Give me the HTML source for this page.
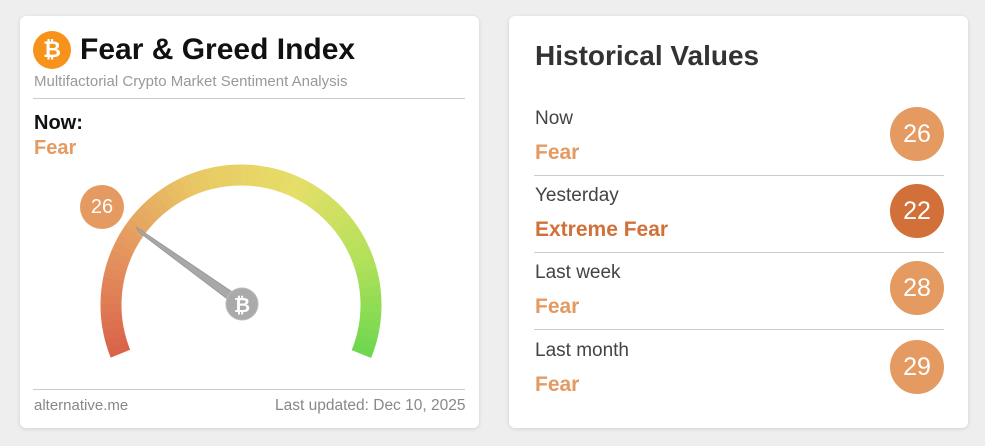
<!DOCTYPE html><html><head><style>
body{margin:0;width:985px;height:446px;background:#eeeeee;font-family:"Liberation Sans",sans-serif;position:relative;overflow:hidden}
.card{position:absolute;background:#fff;border-radius:6px;box-shadow:0 1px 4px rgba(0,0,0,.12)}
.a{position:absolute;white-space:nowrap}
.c{position:absolute;width:54px;height:54px;border-radius:50%;color:#fff;font-size:25px;text-align:center;line-height:54px}
.hr{position:absolute;height:1px;background:#ccc}
</style></head><body>
<div class="card" style="left:20px;top:16px;width:459px;height:412px"></div>
<div class="card" style="left:509px;top:16px;width:459px;height:412px"></div>
<div class="c" style="left:33px;top:31px;width:38px;height:38px;line-height:38px;background:#f7931a;font-size:22px;font-weight:bold">₿</div>
<div class="a" style="left:80px;top:33px;font-size:30px;font-weight:bold;color:#111">Fear &amp; Greed Index</div>
<div class="a" style="left:34px;top:73px;font-size:15px;color:#999">Multifactorial Crypto Market Sentiment Analysis</div>
<div class="hr" style="left:33px;top:98px;width:432px"></div>
<div class="a" style="left:34px;top:112px;font-size:20px;font-weight:bold;color:#111">Now:</div>
<div class="a" style="left:34px;top:137px;font-size:20px;font-weight:bold;color:#e49a60">Fear</div>
<svg style="position:absolute;left:0;top:0" width="985" height="446" id="g"></svg>
<div class="c" style="left:80px;top:185px;width:44px;height:44px;line-height:44px;background:#e49a60;font-size:20px">26</div>
<div class="hr" style="left:33px;top:389px;width:432px"></div>
<div class="a" style="left:34px;top:397px;font-size:15px;color:#888">alternative.me</div>
<div class="a" style="left:275px;top:397px;font-size:15.5px;color:#888">Last updated: Dec 10, 2025</div>

<div class="a" style="left:535px;top:40px;font-size:28px;font-weight:bold;color:#333">Historical Values</div>
<div class="a" style="left:535px;top:108px;font-size:19px;color:#444">Now</div>
<div class="a" style="left:535px;top:141px;font-size:21px;font-weight:bold;color:#e49a60">Fear</div>
<div class="c" style="left:890px;top:107px;background:#e49a60">26</div>
<div class="hr" style="left:534px;top:175px;width:410px"></div>
<div class="a" style="left:535px;top:185px;font-size:19px;color:#444">Yesterday</div>
<div class="a" style="left:535px;top:218px;font-size:21px;font-weight:bold;color:#d2703a">Extreme Fear</div>
<div class="c" style="left:890px;top:184px;background:#d2703a">22</div>
<div class="hr" style="left:534px;top:252px;width:410px"></div>
<div class="a" style="left:535px;top:262px;font-size:19px;color:#444">Last week</div>
<div class="a" style="left:535px;top:295px;font-size:21px;font-weight:bold;color:#e49a60">Fear</div>
<div class="c" style="left:890px;top:261px;background:#e49a60">28</div>
<div class="hr" style="left:534px;top:329px;width:410px"></div>
<div class="a" style="left:535px;top:340px;font-size:19px;color:#444">Last month</div>
<div class="a" style="left:535px;top:373px;font-size:21px;font-weight:bold;color:#e49a60">Fear</div>
<div class="c" style="left:890px;top:340px;background:#e49a60">29</div>
<script>
var s=document.getElementById('g'),cx=241,cy=305,r=130,N=60,a0=202,a1=-22,h='';
var cols=[[217,100,75],[229,150,95],[232,200,100],[230,222,104],[180,225,90],[106,214,79]];
function col(t){var p=t*(cols.length-1),i=Math.min(Math.floor(p),cols.length-2),f=p-i;return 'rgb('+cols[i].map((v,k)=>Math.round(v+(cols[i+1][k]-v)*f)).join(',')+')';}
for(var i=0;i<N;i++){var b=(a0+(a1-a0)*i/N)*Math.PI/180,e=(a0+(a1-a0)*(i+1.05)/N)*Math.PI/180;
h+='<path d="M'+(cx+r*Math.cos(b))+' '+(cy-r*Math.sin(b))+' A'+r+' '+r+' 0 0 1 '+(cx+r*Math.cos(e))+' '+(cy-r*Math.sin(e))+'" stroke="'+col(i/N)+'" stroke-width="21" fill="none"/>';}
h+='<polygon points="136,227 139,232 242,310 244,300" fill="#a8a8a8" stroke="#999" stroke-width="1"/>';
h+='<circle cx="242" cy="304" r="16" fill="#aaa" stroke="#bbb"/><text x="242" y="312" text-anchor="middle" font-size="20" font-weight="bold" fill="#fff" font-family="Liberation Sans">₿</text>';
s.innerHTML=h;
</script>
</body></html>
